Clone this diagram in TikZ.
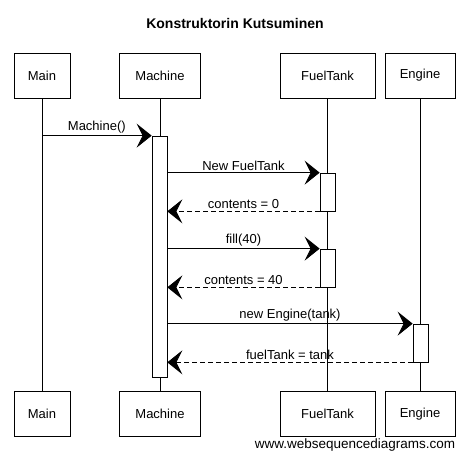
\documentclass[tikz,border=0pt]{standalone}
\usepackage{fontspec}
\setmainfont{Liberation Sans}
\usetikzlibrary{positioning,arrows.meta}

\begin{document}
\begin{tikzpicture}[
  x=1pt, y=-1pt, font=\fontsize{13}{15}\selectfont,
  >={Stealth[length=15pt,width=24pt,inset=6pt]},
  actor/.style={draw, line width=0.9pt, minimum height=45pt, inner sep=0pt},
  act/.style={draw, fill=white, line width=0.7pt, minimum width=15pt, inner sep=0pt},
  life/.style={line width=0.6pt},
  call/.style={->, line width=0.8pt},
  reply/.style={->, line width=0.8pt, dash pattern=on 5pt off 3pt},
  lbl/.style={above, inner sep=2pt},
]
\useasboundingbox (0,0) rectangle (471,460);

% title
\node[font=\fontsize{14}{16}\selectfont\bfseries] (title) at (235,23) {Konstruktorin Kutsuminen};

% participants, top and bottom
\node[actor, minimum width=56pt] (mainT) at (42,75.5)    {Main};
\node[actor, minimum width=81pt] (machT) at (160,75.5)   {Machine};
\node[actor, minimum width=95pt] (tankT) at (327.5,75.5) {FuelTank};
\node[actor, minimum width=70pt] (engT)  at (420,75.5)   {Engine};

\node[actor, minimum width=56pt] (mainB) at (42,414)    {Main};
\node[actor, minimum width=81pt] (machB) at (160,414)   {Machine};
\node[actor, minimum width=95pt] (tankB) at (327.5,414) {FuelTank};
\node[actor, minimum width=70pt] (engB)  at (420,414)   {Engine};

% lifelines
\draw[life] (mainT) -- (mainB);
\draw[life] (machT) -- (machB);
\draw[life] (tankT) -- (tankB);
\draw[life] (engT) -- (engB);

% activations
\node[act, minimum height=241pt] (actM)  at (159.5,256.5) {};
\node[act, minimum height=38pt]  (actF1) at (327.5,192)   {};
\node[act, minimum height=38pt]  (actF2) at (327.5,268)   {};
\node[act, minimum height=38pt]  (actE)  at (420.5,343)   {};

% messages
\draw[call] (mainT.south |- actM.north) -- node[lbl] {Machine()} (actM.north west);
\draw[call] (actM.east |- actF1.north) -- node[lbl] {New FuelTank} (actF1.north west);
\draw[reply] (actF1.south west) -- node[lbl] {contents = 0} (actM.east |- actF1.south);
\draw[call] (actM.east |- actF2.north) -- node[lbl] {fill(40)} (actF2.north west);
\draw[reply] (actF2.south west) -- node[lbl] {contents = 40} (actM.east |- actF2.south);
\draw[call] (actM.east |- actE.north) -- node[lbl] {new Engine(tank)} (actE.north west);
\draw[reply] (actE.south west) -- node[lbl] {fuelTank = tank} (actM.east |- actE.south);

% watermark
\node[font=\fontsize{13.5}{15}\selectfont] (mark) at (355,445) {www.websequencediagrams.com};
\end{tikzpicture}
\end{document}
